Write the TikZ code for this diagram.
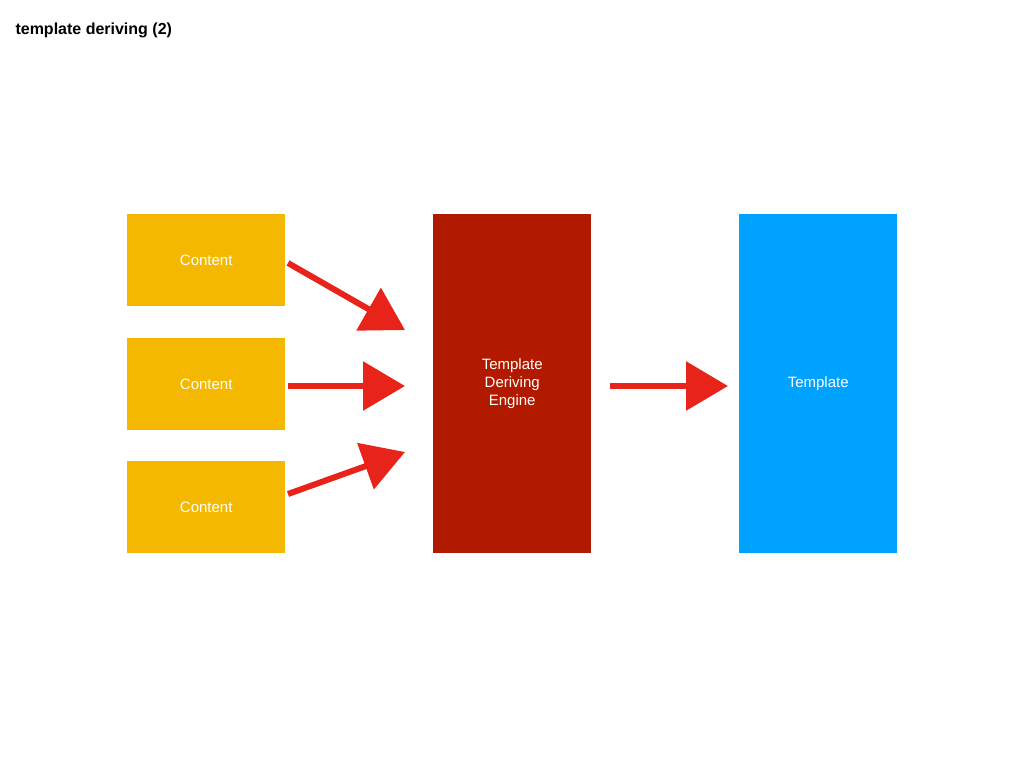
\documentclass[tikz,border=0pt]{standalone}
\usepackage{fontspec}
\setmainfont{Liberation Sans}
\usetikzlibrary{arrows.meta}
\definecolor{cyel}{HTML}{F5B800}
\definecolor{cred}{HTML}{B21A00}
\definecolor{cblue}{HTML}{00A2FF}
\definecolor{carr}{HTML}{E8231A}
\begin{document}
\begin{tikzpicture}[x=1pt,y=-1pt,
  box/.style={draw=none,text=white,font=\fontsize{15}{18}\selectfont,align=center,anchor=north west,inner sep=0pt},
  arr/.style={carr,line width=6pt,-{Triangle[length=42pt,width=48pt]}}]
\useasboundingbox (0,0) rectangle (1024,768);
\node[anchor=west,font=\bfseries\fontsize{16}{19}\selectfont] (title) at (12,30) {template deriving (2)};
\node[box,fill=cyel,minimum width=158pt,minimum height=92pt] (c1) at (127,214) {Content};
\node[box,fill=cyel,minimum width=158pt,minimum height=92pt] (c2) at (127,338) {Content};
\node[box,fill=cyel,minimum width=158pt,minimum height=92pt] (c3) at (127,461) {Content};
\node[box,fill=cred,minimum width=158pt,minimum height=339pt] (e) at (433,214) {Template\\Deriving\\Engine};
\node[box,fill=cblue,minimum width=158pt,minimum height=339pt] (t) at (739,214) {Template};
\coordinate (a1s) at (288,263); \coordinate (a1e) at (405,330);
\coordinate (a2s) at (288,386); \coordinate (a2e) at (405,386);
\coordinate (a3s) at (288,494); \coordinate (a3e) at (405,452);
\coordinate (a4s) at (610,386); \coordinate (a4e) at (728,386);
\draw[arr] (a1s) -- (a1e);
\draw[arr] (a2s) -- (a2e);
\draw[arr] (a3s) -- (a3e);
\draw[arr] (a4s) -- (a4e);
\end{tikzpicture}
\end{document}
